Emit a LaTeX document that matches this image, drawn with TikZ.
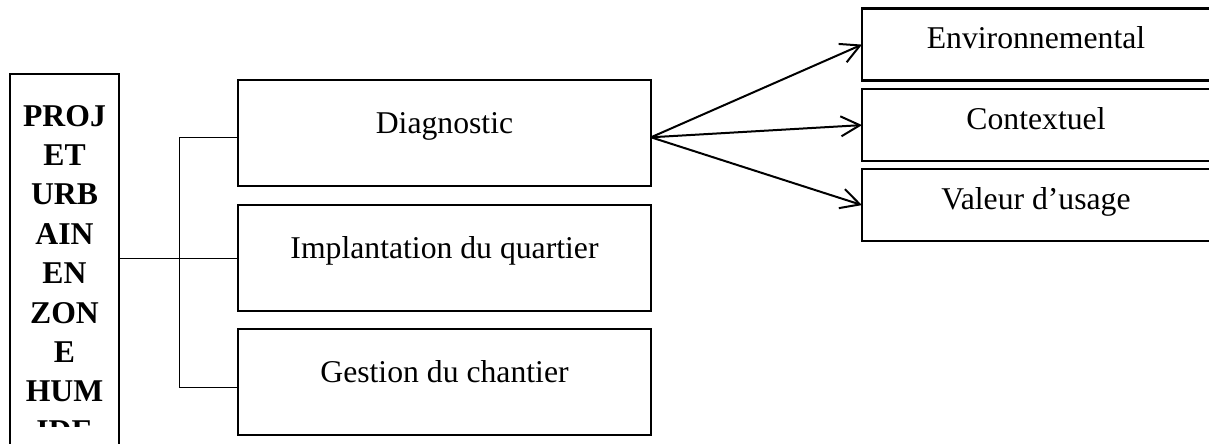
\documentclass[tikz,border=0pt]{standalone}
\usepackage{fontspec}
\setmainfont{Liberation Serif}
\usetikzlibrary{positioning,calc,arrows.meta}

\begin{document}
\begin{tikzpicture}[x=1pt,y=1pt]

       \tikzset{fleche/.style = {draw, line width=2pt, -{Straight Barb[length=19pt,width=20pt]}}, }
       \tikzset{lien/.style = {draw, line width=1pt}, }
       \tikzset{bloc/.style = {rectangle, draw, line width=2.4pt, outer sep=0pt, text centered, minimum width=413pt, minimum height=106pt, text height=22pt, text depth=22pt, font=\fontsize{31.7}{38}\selectfont}, }
       \tikzset{sousbloc/.style = {rectangle, draw, line width=2.4pt, outer sep=0pt, text centered, minimum width=348pt, minimum height=72pt, text height=22pt, text depth=14pt, font=\fontsize{31.7}{38}\selectfont}, }
       \tikzset{projet/.style = {rectangle, draw, line width=2.4pt, outer sep=0pt, minimum width=109pt, minimum height=400pt, anchor=north west}, }
       \tikzset{titre/.style = {align=center, inner sep=0pt, anchor=north, font=\bfseries\fontsize{31.7}{39.4}\selectfont}, }

       \useasboundingbox (0,0) rectangle (1209,444);

       \node[projet] (proj) at (10,370) {};
       \node[bloc] (diag) at (444.5,310.7) {Diagnostic};
       \node[bloc, below=19pt of diag] (impl) {Implantation du quartier};
       \node[bloc, below=18pt of impl] (gest) {Gestion du chantier};
       \node[sousbloc] (env) at (1036,399.4) {Environnemental};
       \node[sousbloc, below=8.5pt of env] (ctx) {Contextuel};
       \node[sousbloc, below=8pt of ctx] (val) {Valeur d’usage};

       % texte coupe en bas comme dans la cellule
       \begin{scope}
       \clip (0,17) rectangle (1209,444);
       \node[titre] (projtxt) at (64.5,339) {PROJ\\ET\\URB\\AIN\\EN\\ZON\\E\\HUM\\IDE};
       \end{scope}

       \draw[lien] (proj.east |- impl.west) -- (impl.west);
       \draw[lien] ($(diag.west)+(0,-4)$) -- ++(-59,0) |- ($(gest.west)+(0,-5)$);

       \coordinate (depart) at ($(diag.east)+(0,-4)$);
       \path
       (depart) edge[fleche] (env.west)
       (depart) edge[fleche] (ctx.west)
       (depart) edge[fleche] (val.west);

\end{tikzpicture}
\end{document}
